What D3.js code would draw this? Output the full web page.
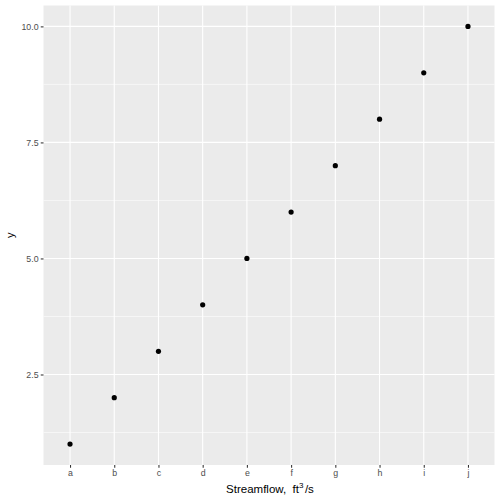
<!DOCTYPE html>
<html><head><meta charset="utf-8">
<script src="https://cdn.jsdelivr.net/npm/d3@7"></script>
<style>body{margin:0;background:#fff}</style>
</head><body>
<svg id="c" width="500" height="500"></svg>
<script>
const categories = ["a","b","c","d","e","f","g","h","i","j"];
const yValues = [1,2,3,4,5,6,7,8,9,10];
const yTicks = [2.5,5.0,7.5,10.0];
const yMinor = [1.25,3.75,6.25,8.75];

const svg = d3.select("#c");
const L = 43.5, R = 494.5, T = 5.5, B = 465;
const font = "'Liberation Sans', Arial, sans-serif";

const x = d3.scalePoint().domain(categories).range([L, R]).padding(0.6);
const y = d3.scaleLinear().domain([0.55, 10.45]).range([B, T]);

svg.append("rect").attr("x", L).attr("y", T).attr("width", R - L).attr("height", B - T).attr("fill", "#EBEBEB");

const g = svg.append("g");
g.selectAll(".ymin").data(yMinor).join("line")
  .attr("x1", L).attr("x2", R).attr("y1", d => y(d)).attr("y2", d => y(d))
  .attr("stroke", "#fff").attr("stroke-width", 0.55);
g.selectAll(".ymaj").data(yTicks).join("line")
  .attr("x1", L).attr("x2", R).attr("y1", d => y(d)).attr("y2", d => y(d))
  .attr("stroke", "#fff").attr("stroke-width", 1.1);
g.selectAll(".xmaj").data(categories).join("line")
  .attr("x1", d => x(d)).attr("x2", d => x(d)).attr("y1", T).attr("y2", B)
  .attr("stroke", "#fff").attr("stroke-width", 1.1);

// axes
const xAxis = d3.axisBottom(x).tickSize(2.75).tickPadding(2.2);
const xa = svg.append("g").attr("transform", `translate(0,${B})`).call(xAxis);
const yAxis = d3.axisLeft(y).tickValues(yTicks).tickFormat(d3.format(".1f")).tickSize(2.75).tickPadding(2.2);
const ya = svg.append("g").attr("transform", `translate(${L},0)`).call(yAxis);
[xa, ya].forEach(a => {
  a.select(".domain").remove();
  a.selectAll(".tick line").attr("stroke", "#333").attr("stroke-width", 1.07);
  a.selectAll(".tick text").attr("fill", "#4D4D4D").style("font-family", font).style("font-size", "8.8px");
});

svg.selectAll(".pt").data(categories).join("circle")
  .attr("cx", d => x(d)).attr("cy", (d, i) => y(yValues[i])).attr("r", 2.6).attr("fill", "#000");

// titles
const xt = svg.append("text").attr("x", (L + R) / 2 + 1).attr("y", 493).attr("text-anchor", "middle")
  .style("font-family", font).style("font-size", "11.5px").style("white-space", "pre").attr("fill", "#000");
xt.append("tspan").text("Streamflow,  ft");
xt.append("tspan").attr("dy", -5).style("font-size", "8px").text("3");
xt.append("tspan").attr("dy", 5).attr("dx", 1.5).text("/s");

svg.append("text").attr("transform", `translate(13.5,${(T + B) / 2}) rotate(-90)`).attr("text-anchor", "middle")
  .style("font-family", font).style("font-size", "11px").attr("fill", "#000").text("y");
</script>
</body></html>
